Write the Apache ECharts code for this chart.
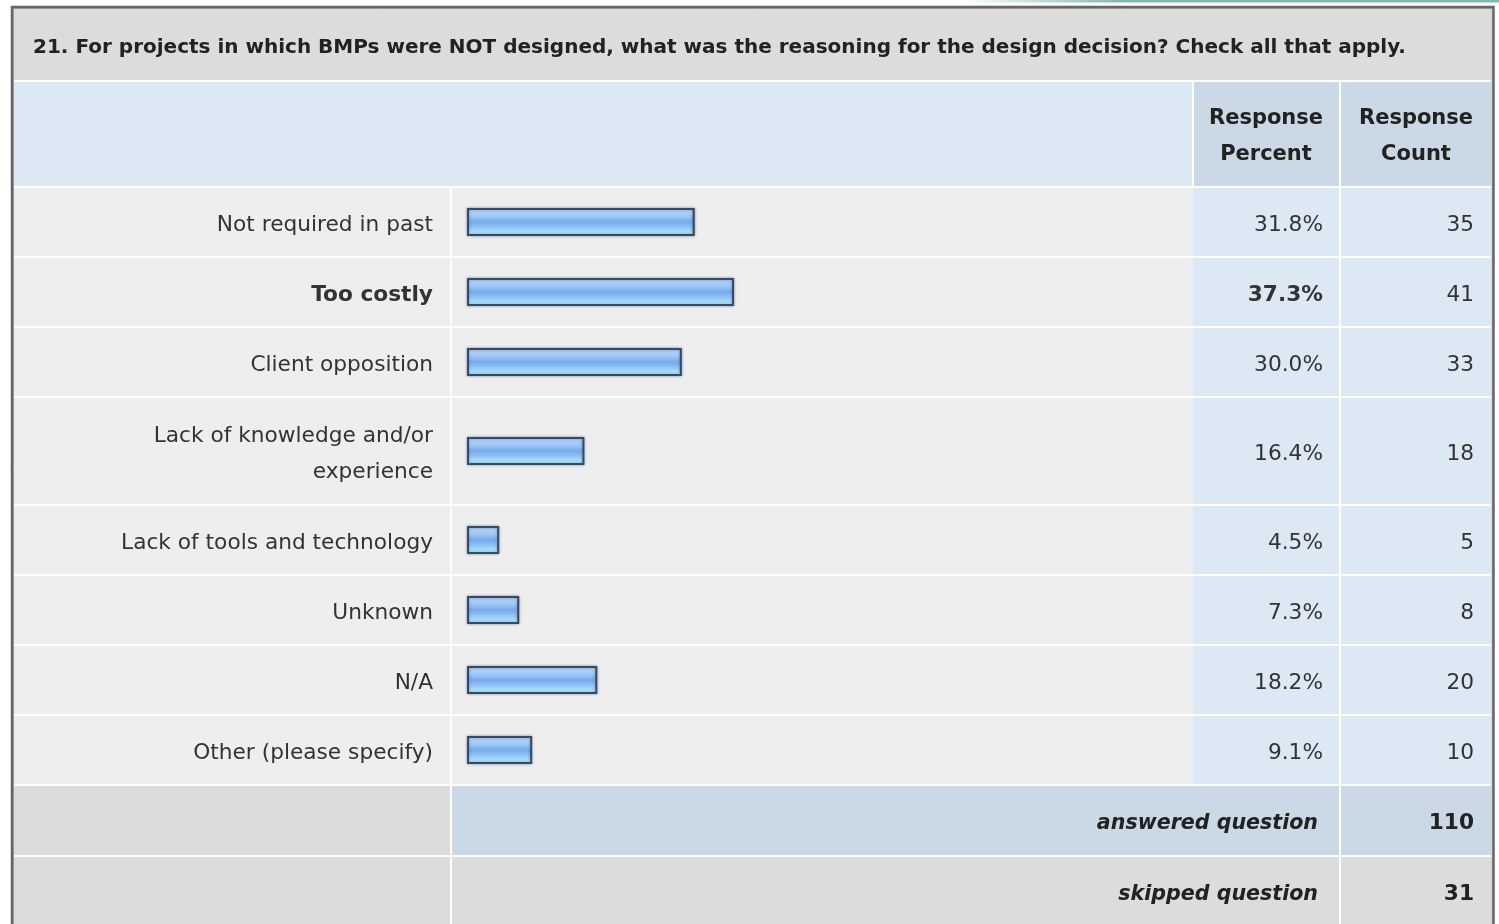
<!DOCTYPE html>
<html><head><meta charset="utf-8">
<script src="https://cdn.jsdelivr.net/npm/echarts@6/dist/echarts.min.js"></script>
<style>html,body{margin:0;padding:0;background:#fff}#c{width:1499px;height:924px}</style>
</head><body><div id="c"></div>
<script>
// ---- data ----
const questionTitle = '21. For projects in which BMPs were NOT designed, what was the reasoning for the design decision? Check all that apply.';
const categories = ['Not required in past', 'Too costly', 'Client opposition', 'Lack of knowledge and/or\nexperience', 'Lack of tools and technology', 'Unknown', 'N/A', 'Other (please specify)'];
const percents = [31.8, 37.3, 30.0, 16.4, 4.5, 7.3, 18.2, 9.1];
const counts = [35, 41, 33, 18, 5, 8, 20, 10];
const headerLabels = ['Response\nPercent', 'Response\nCount'];
const footerLabels = ['answered question', 'skipped question'];
const footerValues = [110, 31];

// ---- layout ----
const FONT = 'DejaVu Sans';
const TXT = '#333333';
const FS = 21.7;
const X0 = 14, X1 = 1491, LABEL_END = 450, BAR_CELL = 452, PCT_X0 = 1193, PCT_X1 = 1339, CNT_X0 = 1341;
const BAR_LEFT = 467, BAR_WIDTH = 716;
const ROW_H = 68, EXTRA_LINE = 38, GAP = 2, TEXT_DY = 3;
const maxPct = Math.max(...percents);

const g = [];
function rect(x, y, w, h, fill, z) { g.push({ type: 'rect', z: z || 0, silent: true, shape: { x, y, width: w, height: h }, style: { fill } }); }
function text(t, x, y, opts) {
  g.push(Object.assign({ type: 'text', z: 100, silent: true, x, y,
    style: Object.assign({ text: t, fontFamily: FONT, fontSize: FS, fill: TXT, align: 'right', verticalAlign: 'middle' }, opts || {}) }));
}

// top teal line
g.push({ type: 'rect', z: 0, silent: true, shape: { x: 960, y: 0, width: 539, height: 2.5 },
  style: { fill: new echarts.graphic.LinearGradient(0, 0, 1, 0, [{ offset: 0, color: 'rgba(128,184,180,0)' }, { offset: 0.3, color: '#80b8b4' }, { offset: 1, color: '#80b8b4' }]) } });

// title band
rect(X0, 9, X1 - X0, 71, '#dcdcdc');
text(questionTitle, 33, 48, { align: 'left', fontWeight: 'bold', fontSize: 20, fill: '#222' });

// header band
rect(X0, 82, PCT_X0 - 1 - X0, 104, '#dde8f5');
rect(PCT_X0 + 1, 82, PCT_X1 - PCT_X0 - 1, 104, '#cbd8e6');
rect(CNT_X0, 82, X1 - CNT_X0, 104, '#cbd8e6');
text(headerLabels[0], (PCT_X0 + PCT_X1) / 2, 137, { align: 'center', fontWeight: 'bold', fontSize: 21, lineHeight: 36, fill: '#222' });
text(headerLabels[1], (CNT_X0 + X1) / 2, 137, { align: 'center', fontWeight: 'bold', fontSize: 21, lineHeight: 36, fill: '#222' });

// rows
const grids = [], xAxes = [], yAxes = [], series = [];
let rowTop = 188;
categories.forEach((cat, i) => {
  const lines = cat.split('\n').length;
  const h = ROW_H + (lines - 1) * EXTRA_LINE;
  const bold = percents[i] === maxPct;
  rect(X0, rowTop, LABEL_END - X0, h, '#eeeeee');
  rect(BAR_CELL, rowTop, PCT_X0 - BAR_CELL, h, '#eeeeee');
  rect(PCT_X0, rowTop, PCT_X1 - PCT_X0, h, '#dde8f5');
  rect(CNT_X0, rowTop, X1 - CNT_X0, h, '#dde8f5');
  const cy = rowTop + h / 2 + TEXT_DY;
  text(cat, 433, cy, { fontWeight: bold ? 'bold' : 'normal', lineHeight: 36 });
  text(percents[i].toFixed(1) + '%', 1323, cy, { fontWeight: bold ? 'bold' : 'normal' });
  text(String(counts[i]), 1474, cy);

  grids.push({ left: BAR_LEFT, width: BAR_WIDTH, top: rowTop, height: h });
  xAxes.push({ type: 'value', gridIndex: i, min: 0, max: 100, show: false });
  yAxes.push({ type: 'category', gridIndex: i, data: [cat], show: false });
  series.push({ type: 'bar', xAxisIndex: i, yAxisIndex: i, data: [percents[i]], barWidth: 28, silent: true,
    itemStyle: {
      color: new echarts.graphic.LinearGradient(0, 0, 0, 1, [
        { offset: 0, color: '#b6d9fc' }, { offset: 0.3, color: '#9ec8f7' }, { offset: 0.5, color: '#76aaee' },
        { offset: 0.72, color: '#94c8f6' }, { offset: 1, color: '#bcf8ff' }]),
      borderColor: '#34496b', borderWidth: 2, shadowBlur: 3, shadowColor: 'rgba(0,0,0,0.35)' } });
  rowTop += h + GAP;
});

// footer rows
const footerFills = [['#dcdcdc', '#cbd8e6', '#cbd8e6'], ['#dcdcdc', '#dcdcdc', '#dcdcdc']];
footerLabels.forEach((lab, k) => {
  const h = 69;
  rect(X0, rowTop, LABEL_END - X0, h, footerFills[k][0]);
  rect(BAR_CELL, rowTop, PCT_X1 - BAR_CELL, h, footerFills[k][1]);
  rect(CNT_X0, rowTop, X1 - CNT_X0, h, footerFills[k][2]);
  const cy = rowTop + h / 2 + TEXT_DY;
  text(lab, 1318, cy, { fontWeight: 'bold', fontStyle: 'italic', fontSize: 20.6, fill: '#222' });
  text(String(footerValues[k]), 1474, cy, { fontWeight: 'bold', fill: '#222' });
  rowTop += h + GAP;
});

// outer frame
g.push({ type: 'rect', z: 50, silent: true, shape: { x: 13.5, y: 8.5, width: 1478.5, height: 940 }, style: { fill: null, stroke: '#a8a8a8', lineWidth: 1 } });
g.push({ type: 'rect', z: 51, silent: true, shape: { x: 12, y: 7, width: 1481.5, height: 940 }, style: { fill: null, stroke: '#666666', lineWidth: 2.5 } });

const chart = echarts.init(document.getElementById('c'), null, { renderer: 'canvas' });
chart.setOption({
  animation: false,
  backgroundColor: '#ffffff',
  grid: grids, xAxis: xAxes, yAxis: yAxes, series: series,
  graphic: { elements: g }
});
</script>
</body></html>
